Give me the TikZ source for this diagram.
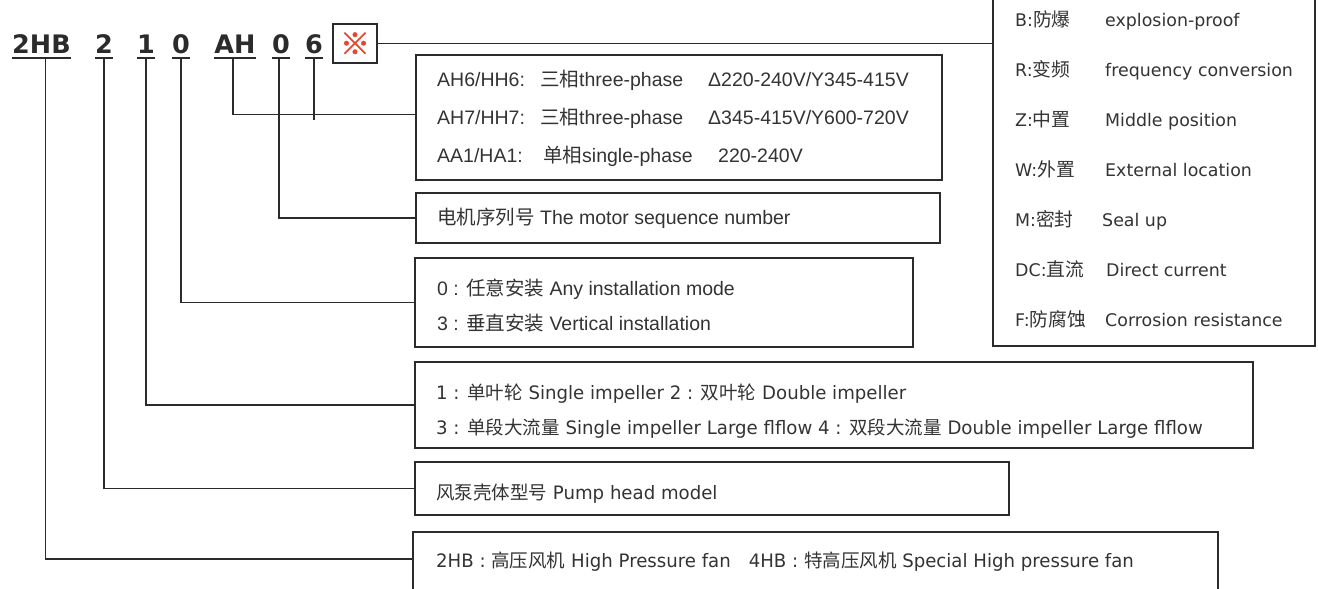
\documentclass[tikz,border=0pt]{standalone}
\usepackage{fontspec}
\setmainfont{Liberation Sans}
\newfontfamily\cjk{Noto Sans CJK SC}
\newfontfamily\cjkB[FakeBold=1.5]{Noto Sans CJK SC}
\newfontfamily\cjkR[Scale=1.08]{Noto Sans CJK SC}
\newfontfamily\tah[FakeStretch=0.98]{DejaVu Sans}
\newfontfamily\verd{DejaVu Sans}
\newcommand\zh[1]{{\cjk #1}}
\newcommand\zr[1]{{\cjkR #1}}
\definecolor{ink}{HTML}{2B2B2B}
\definecolor{txt}{HTML}{333333}
\definecolor{refred}{HTML}{E8452C}
\begin{document}
\begin{tikzpicture}[x=1pt,y=-1pt,
  box/.style={draw=ink,line width=1.8pt,inner sep=0pt},
  conn/.style={draw=ink,line width=1.6pt},
  uline/.style={draw=ink,line width=2pt},
  arial/.style={font=\fontsize{19.5}{23}\selectfont,text=txt,anchor=base west,inner sep=0pt},
  tahs/.style={font=\tah\fontsize{18.5}{22}\selectfont,text=txt,anchor=base west,inner sep=0pt},
  verds/.style={font=\verd\fontsize{17.4}{21}\selectfont,text=txt,anchor=base west,inner sep=0pt},
  code/.style={font=\verd\bfseries\fontsize{25.5}{30}\selectfont,text=ink,anchor=base,inner sep=0pt},
]
\useasboundingbox (0,0) rectangle (1318,589);

% code letters
\node[code] (c2HB) at (41.5,53) {2HB};
\node[code] (cTwo) at (104,53) {2};
\node[code] (cOne) at (146,53) {1};
\node[code] (cZeroA) at (181,53) {0};
\node[code] (cAH) at (235,53) {AH};
\node[code] (cZeroB) at (281,53) {0};
\node[code] (cSix) at (314,53) {6};
\foreach \c in {c2HB,cTwo,cOne,cZeroA,cAH,cZeroB,cSix}
  \draw[uline] ([yshift=-4.5pt]\c.base west) -- ([yshift=-4.5pt]\c.base east);

% reference mark box
\node[box,minimum width=44pt,minimum height=39pt] (bRef) at (355,43.5) {};
\node[font=\cjkB\fontsize{30}{30}\selectfont,text=refred,inner sep=0pt] (refmark) at (bRef) {※};

% boxes
\node[box,minimum width=526pt,minimum height=125pt] (bAH) at (679,117.5) {};
\node[box,minimum width=524pt,minimum height=50pt] (bMot) at (678,218) {};
\node[box,minimum width=498pt,minimum height=89pt] (bIns) at (664,302.5) {};
\node[box,minimum width=838pt,minimum height=86pt] (bImp) at (834,405) {};
\node[box,minimum width=594pt,minimum height=53pt] (bPump) at (712,488.5) {};
\node[box,minimum width=805pt,minimum height=68pt] (b2HB) at (815.5,566) {};
\node[box,minimum width=322pt,minimum height=356pt] (bR) at (1154,168) {};

% AH box text
\node[arial] (t11) at (437,86) {AH6/HH6:};
\node[arial] (t12) at (540,86) {\zh{三相}three-phase};
\node[arial] (t13) at (708,86) {Δ220-240V/Y345-415V};
\node[arial] (t21) at (437,124) {AH7/HH7:};
\node[arial] (t22) at (540,124) {\zh{三相}three-phase};
\node[arial] (t23) at (708,124) {Δ345-415V/Y600-720V};
\node[arial] (t31) at (437,162) {AA1/HA1:};
\node[arial] (t32) at (543,162) {\zh{单相}single-phase};
\node[arial] (t33) at (718,162) {220-240V};
% motor
\node[arial] (tm) at (437,224) {\zh{电机序列号} The motor sequence number};
% install
\node[arial] (ti1) at (437,295) {0 : \zh{任意安装} Any installation mode};
\node[arial] (ti2) at (437,330) {3 : \zh{垂直安装} Vertical installation};
% impeller
\node[tahs] (tp1) at (436,399) {1 : \zh{单叶轮} Single impeller 2 : \zh{双叶轮} Double impeller};
\node[tahs] (tp2) at (436,434) {3 : \zh{单段大流量} Single impeller Large flflow 4 : \zh{双段大流量} Double impeller Large flflow};
% pump head
\node[tahs] (tph) at (436,499) {\zh{风泵壳体型号} Pump head model};
% 2HB
\node[tahs] (th) at (436,567) {2HB : \zh{高压风机} High Pressure fan\hspace{18pt}4HB : \zh{特高压风机} Special High pressure fan};

% right box
\node[verds] (r1a) at (1015,26) {B:\zr{防爆}};
\node[verds] (r1b) at (1105,26) {explosion-proof};
\node[verds] (r2a) at (1015,76) {R:\zr{变频}};
\node[verds] (r2b) at (1105,76) {frequency conversion};
\node[verds] (r3a) at (1015,126) {Z:\zr{中置}};
\node[verds] (r3b) at (1105,126) {Middle position};
\node[verds] (r4a) at (1015,176) {W:\zr{外置}};
\node[verds] (r4b) at (1105,176) {External location};
\node[verds] (r5a) at (1015,226) {M:\zr{密封}};
\node[verds] (r5b) at (1102,226) {Seal up};
\node[verds] (r6a) at (1015,276) {DC:\zr{直流}};
\node[verds] (r6b) at (1106,276) {Direct current};
\node[verds] (r7a) at (1015,326) {F:\zr{防腐蚀}};
\node[verds] (r7b) at (1105,326) {Corrosion resistance};

% connectors
\coordinate (jAH) at ([yshift=3pt]bAH.west);
\draw[conn] ([xshift=4pt,yshift=-5pt]c2HB.base) |- ([yshift=7pt]b2HB.west);
\draw[conn] ([yshift=-5pt]cTwo.base) |- (bPump.west);
\draw[conn] ([yshift=-5pt]cOne.base) |- (bImp.west);
\draw[conn] ([yshift=-5pt]cZeroA.base) |- (bIns.west);
\draw[conn] ([xshift=-2pt,yshift=-5pt]cAH.base) |- (jAH);
\draw[conn] ([xshift=-2pt,yshift=-5pt]cZeroB.base) |- (bMot.west);
\draw[conn] ([yshift=-5pt]cSix.base) -- ([yshift=-5pt]cSix.base |- jAH);
\draw[conn] (bRef.east) -- (bRef.east -| bR.west);
\end{tikzpicture}
\end{document}
